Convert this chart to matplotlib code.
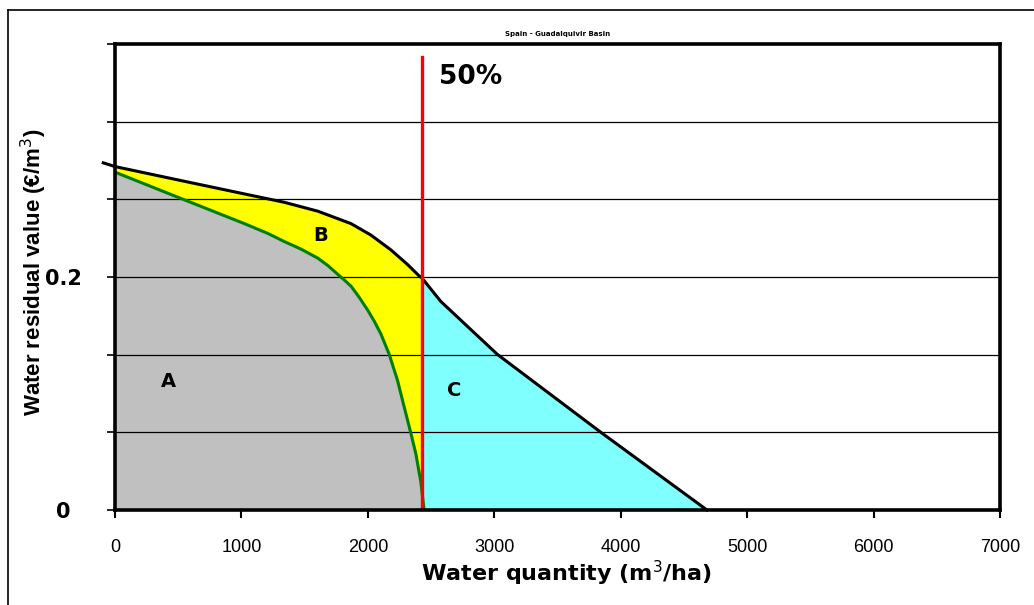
import numpy as np
import matplotlib
matplotlib.use('Agg')
import matplotlib.pyplot as plt
from matplotlib.lines import Line2D

# === Data ===
# residual value curve (black)
x_total = [-93, 0, 499, 1024, 1340, 1604, 1867, 2024, 2182, 2314, 2406, 2425, 2577, 3024, 3840, 4682]
y_total = [0.298, 0.2948, 0.2833, 0.2713, 0.2641, 0.2565, 0.2458, 0.236, 0.2233, 0.2107, 0.2009,
           0.1995, 0.179, 0.1336, 0.0669, 0.0]

# lower curve (green)
x_low = [0, 499, 1024, 1209, 1340, 1472, 1604, 1683, 1762, 1814, 1867, 1932, 1998, 2051, 2103,
         2169, 2235, 2287, 2340, 2380, 2419, 2445]
y_low = [0.290, 0.2684, 0.2458, 0.2374, 0.2304, 0.2239, 0.2162, 0.2099, 0.2023, 0.1974, 0.1921,
         0.1825, 0.1717, 0.162, 0.1511, 0.1336, 0.1111, 0.0886, 0.066, 0.048, 0.024, 0.0]

x_50 = 2425          # 50% line
y_50_top = 0.389

x_ticks = [0, 1000, 2000, 3000, 4000, 5000, 6000, 7000]
y_ticks = [k / 15 for k in range(7)]
y_tick_labels = ['0', '', '', '0.2', '', '', '']

area_labels = ['A', 'B', 'C']
area_x = [422, 1630, 2680]
area_y = [0.110, 0.236, 0.103]

# === Figure ===
fig = plt.figure(figsize=(10.34, 6.05), dpi=100)
ax = fig.add_axes([115 / 1034, 1 - 510 / 605, 885 / 1034, 466 / 605])

xt = np.array(x_total[1:])
yt = np.array(y_total[1:])
xs = np.linspace(0, x_total[-1], 1200)
ys = np.interp(xs, xt, yt)
yl = np.interp(xs, x_low, y_low, right=0.0)

# fills
ax.fill_between(xs, yl, ys, where=xs <= x_50, color='#FFFF00', lw=0, zorder=1)
ax.fill_between(xs, 0, ys, where=xs >= x_50, color='#80FFFF', lw=0, zorder=1)
ax.fill_between(xs, 0, yl, color='#C0C0C0', lw=0, zorder=1.2)

# curves
ax.plot(x_total, y_total, color='black', lw=2.2, zorder=4, clip_on=False)
ax.plot(x_low, y_low, color='#008000', lw=2.2, zorder=4)
ax.plot([x_50, x_50], [0, y_50_top], color='#FF0000', lw=2.4, zorder=5)

ax.set_xlim(0, 7000)
ax.set_ylim(0, 0.4)

ax.set_xticks(x_ticks)
ax.set_xticklabels([str(v) for v in x_ticks], fontfamily='Liberation Sans', fontsize=13)
ax.set_yticks(y_ticks)
ax.set_yticklabels(y_tick_labels, fontfamily='DejaVu Sans', fontweight='bold', fontsize=15,
                   ha='center')
ax.tick_params(axis='x', direction='out', length=6, width=1.5, pad=15)
ax.tick_params(axis='y', direction='out', length=6, width=1.2, pad=31)

ax.grid(axis='y', color='black', lw=0.9)
ax.set_axisbelow(False)
for gl in ax.get_ygridlines():
    gl.set_zorder(2)

for side in ['left', 'bottom', 'top', 'right']:
    ax.spines[side].set_linewidth(2.6)
    ax.spines[side].set_zorder(6)

ax.set_xlabel('Water quantity (m$^3$/ha)', fontfamily='DejaVu Sans', fontweight='bold', fontsize=16)
ax.xaxis.set_label_coords(0.51, -0.105)
ax.set_ylabel('Water residual value (€/m$^3$)', fontfamily='Liberation Sans', fontweight='bold',
              fontsize=16)
ax.yaxis.set_label_coords(-0.075, 0.51)

ax.set_title('Spain - Guadalquivir Basin', fontsize=5, fontweight='bold', pad=6)

for lab, xa, ya in zip(area_labels, area_x, area_y):
    ax.text(xa, ya, lab, fontsize=14, fontweight='bold', ha='center', va='center', zorder=7)
ax.text(2560, 0.372, '50%', fontsize=19, fontweight='bold', ha='left', va='center', zorder=7)

# outer frame of the chart area
fig.add_artist(Line2D([8 / 1034, 8 / 1034], [0, 1 - 10 / 605], color='black', lw=1.2,
                      transform=fig.transFigure))
fig.add_artist(Line2D([8 / 1034, 1], [1 - 10 / 605, 1 - 10 / 605], color='black', lw=1.2,
                      transform=fig.transFigure))

fig.savefig('out.png', dpi=100)
